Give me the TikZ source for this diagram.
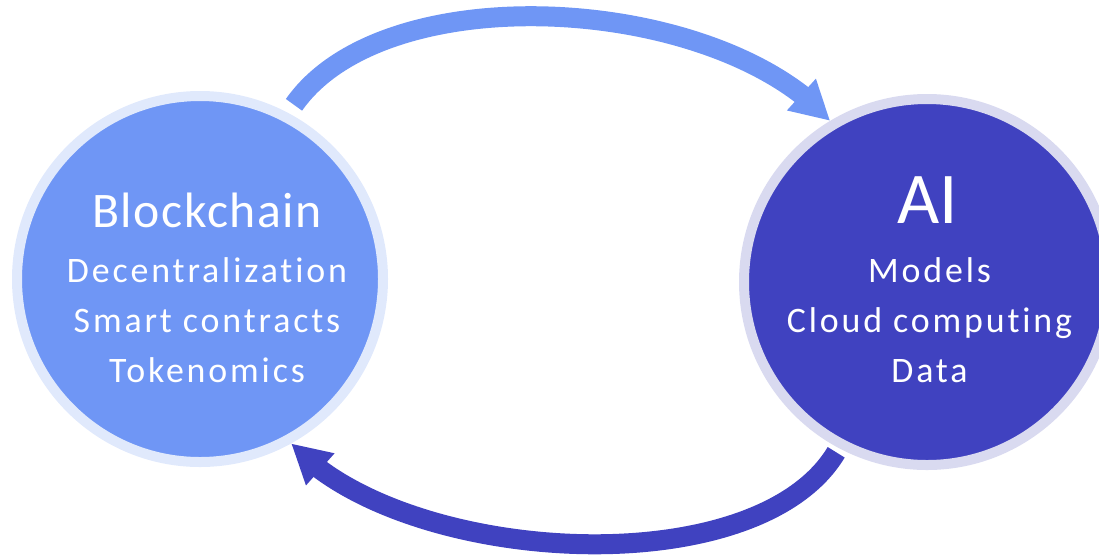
\documentclass[tikz,border=0pt]{standalone}
\usepackage{fontspec}
\setmainfont{Carlito}
\newfontfamily\itemfont{Carlito}[LetterSpace=8.0, Ligatures=NoCommon]
\newfontfamily\headfont{Carlito}[LetterSpace=3.0]
\usepackage{tikz}
\usetikzlibrary{shapes, arrows.meta, bending, positioning}
\usepackage{xcolor}

\definecolor{bcblue}{RGB}{111,150,245}
\definecolor{bcring}{RGB}{224,233,252}
\definecolor{aiblue}{RGB}{64,66,192}
\definecolor{airing}{RGB}{217,218,240}

\begin{document}
\begin{tikzpicture}[
  ball/.style={circle, inner sep=0pt, minimum size=7.32cm, line width=0.2cm},
  item/.style={text=white, anchor=base, font=\itemfont\fontsize{20.4}{24}\selectfont},
  flow/.style={line width=0.4cm, -{Triangle[length=0.78cm, width=0.8cm]}}
]
\useasboundingbox (0,0) rectangle (21.98,-11.1);

% the two circles
\node [ball, fill=bcblue, draw=bcring] (bc) at (4.0,-5.58) {};
\node [ball, fill=aiblue, draw=airing] (ai) at (18.54,-5.64) {};

% texts
\node [item, font=\headfont\fontsize{28.3}{32}\selectfont] (bctitle) at (4.14,-4.54) {Blockchain};
\foreach \txt [count=\i] in {Decentralization, Smart contracts, Tokenomics}
  \node [item] (bc\i) at (4.14,-4.64-\i) {\txt};

\node [item, font=\fontsize{41.5}{46}\selectfont] (aititle) at (18.56,-4.46) {AI};
\foreach \txt [count=\i] in {Models, Cloud computing, Data}
  \node [item] (ai\i) at (18.59,-4.64-\i) {\txt};

% arrows between them
\draw [flow, bcblue, shorten <=0.2cm] (bc.62) to[out=55, in=132, looseness=0.8] (ai.121);
\draw [flow, aiblue, shorten <=0.1cm] (ai.242) to[out=239, in=312, looseness=0.76] (bc.299);

\end{tikzpicture}
\end{document}
